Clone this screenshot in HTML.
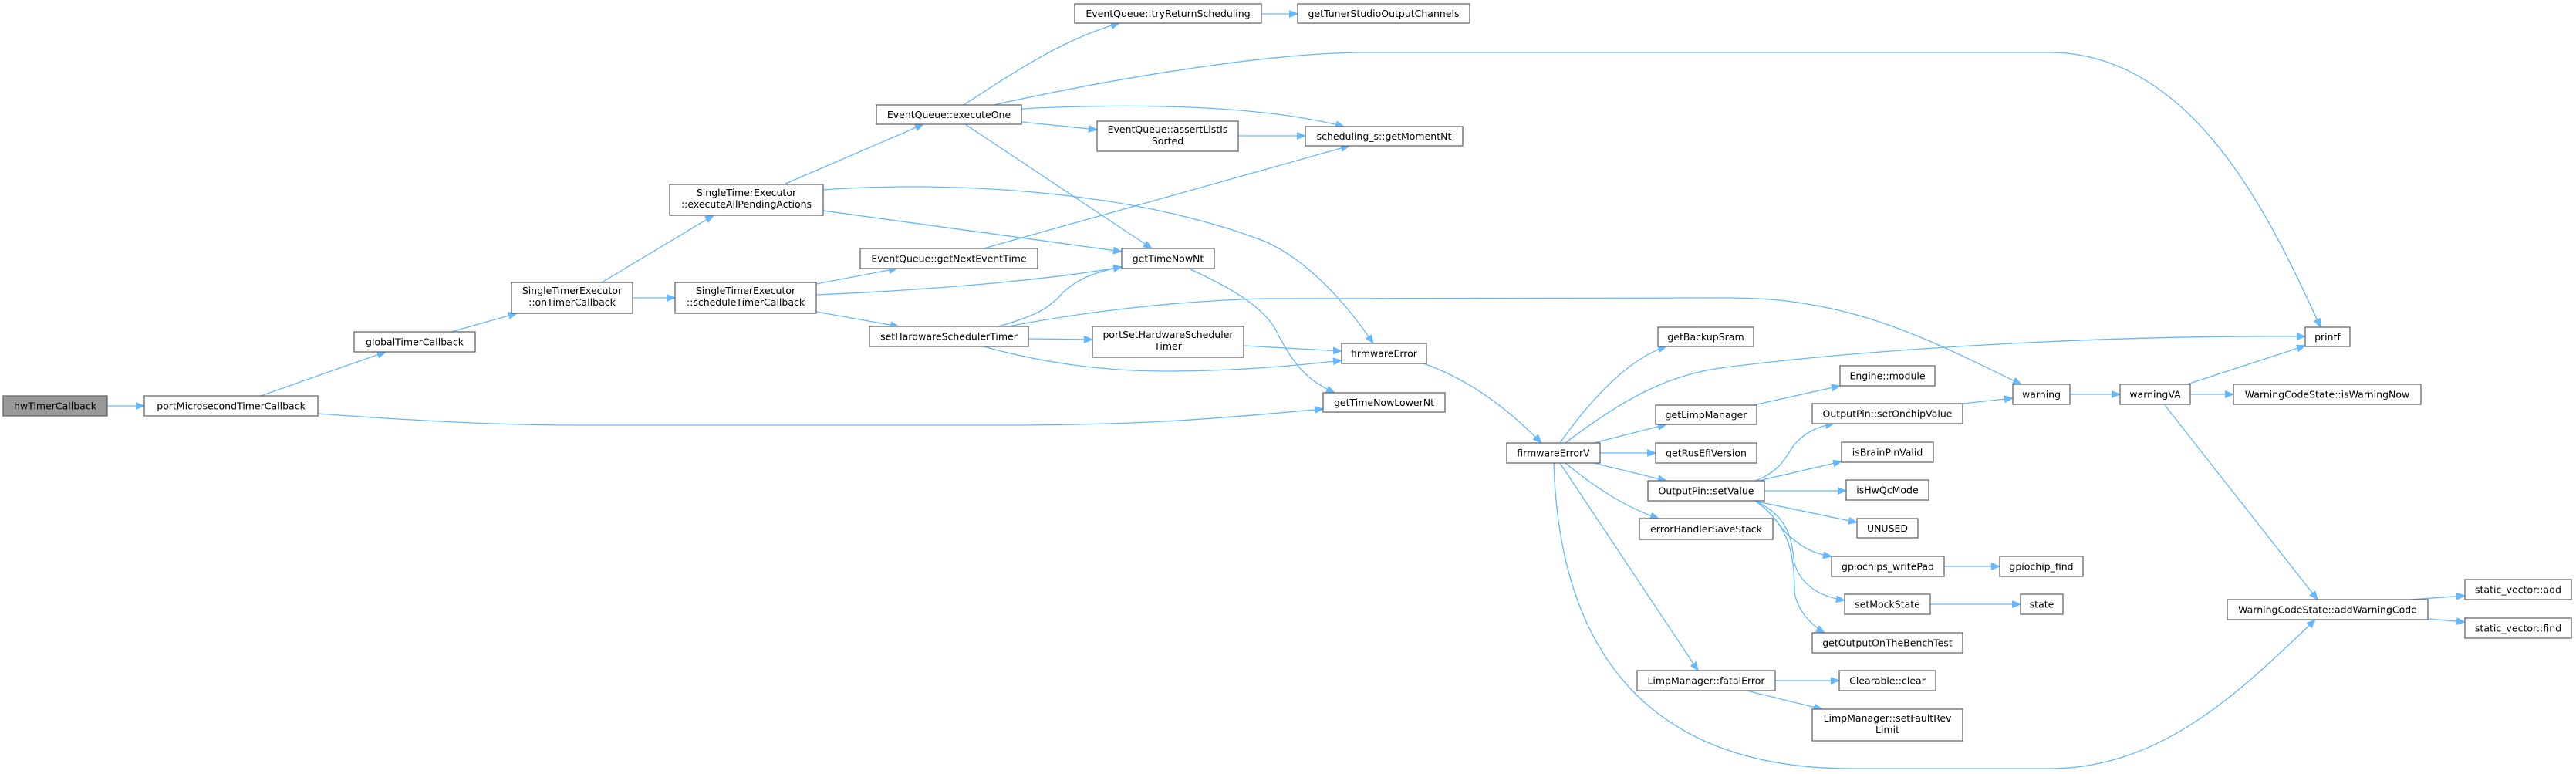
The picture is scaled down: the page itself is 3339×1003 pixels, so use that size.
<!DOCTYPE html>
<html><head><meta charset="utf-8"><style>
html,body{margin:0;padding:0;background:#fff;}
svg{display:block;}
text{font-family:"DejaVu Sans","Liberation Sans",sans-serif;font-size:12.5px;fill:#000;text-anchor:middle;}
.n{fill:#fff;stroke:#666;stroke-width:1.3;}
.e{fill:none;stroke:#63b8ff;stroke-width:1.3;marker-end:url(#a);}
</style></head><body>
<svg width="3339" height="1003" viewBox="0 0 3339 1003" xmlns="http://www.w3.org/2000/svg">
<defs><marker id="a" markerWidth="12" markerHeight="10" refX="11" refY="4.5" orient="auto" markerUnits="userSpaceOnUse"><path d="M0,0 L11,4.5 L0,9 Z" fill="#63b8ff" stroke="#63b8ff"/></marker></defs>

<!-- edges -->
<path class="e" d="M139,526 L187,526"/>
<path class="e" d="M338,513 L500,456"/>
<path class="e" d="M412,536 C550,546 650,551 750,551 L1300,551 C1500,551 1600,540 1715,530"/>
<path class="e" d="M585,430 L670,406"/>
<path class="e" d="M780,366 L925,279"/>
<path class="e" d="M820,386 L875,386"/>
<path class="e" d="M1016,239 L1197,161"/>
<path class="e" d="M1067,246 C1200,236 1450,240 1640,313 C1700,340 1750,400 1780,445"/>
<path class="e" d="M1067,273 L1454,326"/>
<path class="e" d="M1249,136 C1320,90 1380,50 1451,30"/>
<path class="e" d="M1288,136 C1450,100 1650,68 1770,68 L2656,68 C2850,68 2950,300 3008,424"/>
<path class="e" d="M1324,141 C1500,132 1650,140 1742,164"/>
<path class="e" d="M1324,158 L1422,168"/>
<path class="e" d="M1251,161 L1493,322"/>
<path class="e" d="M1605,176 L1692,176"/>
<path class="e" d="M1635,18 L1682,18"/>
<path class="e" d="M1058,368 L1163,348"/>
<path class="e" d="M1058,382 C1200,376 1350,364 1454,346"/>
<path class="e" d="M1058,404 L1165,423"/>
<path class="e" d="M1275,322 L1749,189"/>
<path class="e" d="M1294,423 C1340,410 1360,400 1377,380 C1395,362 1420,352 1454,346"/>
<path class="e" d="M1307,423 C1400,405 1520,390 1640,387 L2243,386 C2400,386 2500,440 2620,498"/>
<path class="e" d="M1333,439 L1416,440"/>
<path class="e" d="M1275,449 C1350,470 1430,481 1512,481 C1600,481 1680,474 1739,467"/>
<path class="e" d="M1612,448 L1739,455"/>
<path class="e" d="M1543,349 C1600,375 1640,400 1655,430 C1680,480 1700,495 1730,509"/>
<path class="e" d="M1845,471 C1900,490 1950,525 1998,574"/>
<path class="e" d="M2022,574 C2060,520 2110,465 2160,449"/>
<path class="e" d="M2029,574 C2100,520 2160,485 2237,476 C2400,455 2700,434 2988,436"/>
<path class="e" d="M2066,574 L2160,550"/>
<path class="e" d="M2074,587 L2146,587"/>
<path class="e" d="M2066,600 L2160,623"/>
<path class="e" d="M2029,600 C2060,625 2100,655 2150,672"/>
<path class="e" d="M2022,600 L2201,869"/>
<path class="e" d="M2014,600 C2020,800 2100,996 2400,996 L2656,996 C2800,996 2900,900 3001,803"/>
<path class="e" d="M2273,525 L2385,500"/>
<path class="e" d="M2275,623 C2310,610 2315,590 2326,576 C2340,560 2355,553 2377,549"/>
<path class="e" d="M2280,623 L2387,598"/>
<path class="e" d="M2287,636 L2393,636"/>
<path class="e" d="M2273,649 L2407,677"/>
<path class="e" d="M2275,649 C2300,665 2310,690 2326,700 C2340,712 2355,718 2374,721"/>
<path class="e" d="M2275,649 C2320,670 2322,700 2326,730 C2335,760 2360,773 2391,778"/>
<path class="e" d="M2275,649 C2320,680 2326,720 2326,768 C2330,790 2345,808 2365,820"/>
<path class="e" d="M2544,523 L2609,516"/>
<path class="e" d="M2683,511 L2748,511"/>
<path class="e" d="M2835,498 L2988,448"/>
<path class="e" d="M2839,511 L2895,511"/>
<path class="e" d="M2806,525 L3004,777"/>
<path class="e" d="M3124,777 L3195,772"/>
<path class="e" d="M3147,802 L3195,806"/>
<path class="e" d="M2520,734 L2592,734"/>
<path class="e" d="M2502,783 L2619,783"/>
<path class="e" d="M2301,882 L2384,882"/>
<path class="e" d="M2264,895 L2362,919"/>

<!-- nodes -->
<rect x="4" y="513" width="135" height="26" fill="#999" stroke="#666" stroke-width="1.3"/><text x="71.5" y="530.5">hwTimerCallback</text>
<rect class="n" x="187" y="513" width="225" height="26"/><text x="299.5" y="530.5">portMicrosecondTimerCallback</text>
<rect class="n" x="459" y="430" width="157" height="26"/><text x="537.5" y="447.5">globalTimerCallback</text>
<rect class="n" x="663" y="366" width="157" height="40"/><text x="741.5" y="381">SingleTimerExecutor</text><text x="741.5" y="396">::onTimerCallback</text>
<rect class="n" x="868" y="239" width="199" height="40"/><text x="967.5" y="254">SingleTimerExecutor</text><text x="967.5" y="269">::executeAllPendingActions</text>
<rect class="n" x="875" y="366" width="183" height="40"/><text x="966.5" y="381">SingleTimerExecutor</text><text x="966.5" y="396">::scheduleTimerCallback</text>
<rect class="n" x="1136" y="136" width="188" height="25"/><text x="1230" y="153">EventQueue::executeOne</text>
<rect class="n" x="1393" y="5" width="242" height="25"/><text x="1514" y="22">EventQueue::tryReturnScheduling</text>
<rect class="n" x="1682" y="5" width="223" height="25"/><text x="1793.5" y="22">getTunerStudioOutputChannels</text>
<rect class="n" x="1422" y="157" width="183" height="39"/><text x="1513.5" y="172">EventQueue::assertListIs</text><text x="1513.5" y="187">Sorted</text>
<rect class="n" x="1692" y="164" width="204" height="25"/><text x="1794" y="181">scheduling_s::getMomentNt</text>
<rect class="n" x="1115" y="322" width="230" height="26"/><text x="1230" y="339.5">EventQueue::getNextEventTime</text>
<rect class="n" x="1454" y="322" width="120" height="26"/><text x="1514" y="339.5">getTimeNowNt</text>
<rect class="n" x="1127" y="423" width="206" height="26"/><text x="1230" y="440.5">setHardwareSchedulerTimer</text>
<rect class="n" x="1416" y="423" width="196" height="40"/><text x="1514" y="438">portSetHardwareScheduler</text><text x="1514" y="453">Timer</text>
<rect class="n" x="1739" y="445" width="110" height="26"/><text x="1794" y="462.5">firmwareError</text>
<rect class="n" x="1715" y="509" width="158" height="25"/><text x="1794" y="526">getTimeNowLowerNt</text>
<rect class="n" x="1953" y="574" width="121" height="26"/><text x="2013.5" y="591.5">firmwareErrorV</text>
<rect class="n" x="2149" y="424" width="124" height="25"/><text x="2211" y="441">getBackupSram</text>
<rect class="n" x="2146" y="525" width="131" height="25"/><text x="2211.5" y="542">getLimpManager</text>
<rect class="n" x="2146" y="574" width="131" height="26"/><text x="2211.5" y="591.5">getRusEfiVersion</text>
<rect class="n" x="2136" y="623" width="151" height="26"/><text x="2211.5" y="640.5">OutputPin::setValue</text>
<rect class="n" x="2125" y="672" width="173" height="27"/><text x="2211.5" y="690">errorHandlerSaveStack</text>
<rect class="n" x="2122" y="869" width="179" height="26"/><text x="2211.5" y="886.5">LimpManager::fatalError</text>
<rect class="n" x="2385" y="474" width="123" height="26"/><text x="2446.5" y="491.5">Engine::module</text>
<rect class="n" x="2349" y="523" width="195" height="26"/><text x="2446.5" y="540.5">OutputPin::setOnchipValue</text>
<rect class="n" x="2387" y="573" width="119" height="26"/><text x="2446.5" y="590.5">isBrainPinValid</text>
<rect class="n" x="2393" y="622" width="107" height="26"/><text x="2446.5" y="639.5">isHwQcMode</text>
<rect class="n" x="2407" y="672" width="79" height="25"/><text x="2446.5" y="689">UNUSED</text>
<rect class="n" x="2374" y="721" width="146" height="26"/><text x="2447" y="738.5">gpiochips_writePad</text>
<rect class="n" x="2391" y="770" width="111" height="26"/><text x="2446.5" y="787.5">setMockState</text>
<rect class="n" x="2349" y="820" width="195" height="26"/><text x="2446.5" y="837.5">getOutputOnTheBenchTest</text>
<rect class="n" x="2384" y="869" width="125" height="26"/><text x="2446.5" y="886.5">Clearable::clear</text>
<rect class="n" x="2349" y="919" width="195" height="41"/><text x="2446.5" y="935">LimpManager::setFaultRev</text><text x="2446.5" y="950">Limit</text>
<rect class="n" x="2592" y="721" width="108" height="26"/><text x="2646" y="738.5">gpiochip_find</text>
<rect class="n" x="2619" y="770" width="55" height="26"/><text x="2646.5" y="787.5">state</text>
<rect class="n" x="2609" y="498" width="74" height="26"/><text x="2646" y="515.5">warning</text>
<rect class="n" x="2748" y="498" width="91" height="26"/><text x="2793.5" y="515.5">warningVA</text>
<rect class="n" x="2895" y="498" width="243" height="26"/><text x="3016.5" y="515.5">WarningCodeState::isWarningNow</text>
<rect class="n" x="2988" y="424" width="58" height="25"/><text x="3017" y="441">printf</text>
<rect class="n" x="2887" y="777" width="260" height="26"/><text x="3017" y="794.5">WarningCodeState::addWarningCode</text>
<rect class="n" x="3195" y="751" width="138" height="26"/><text x="3264" y="768.5">static_vector::add</text>
<rect class="n" x="3195" y="801" width="138" height="26"/><text x="3264" y="818.5">static_vector::find</text>
</svg>
</body></html>
